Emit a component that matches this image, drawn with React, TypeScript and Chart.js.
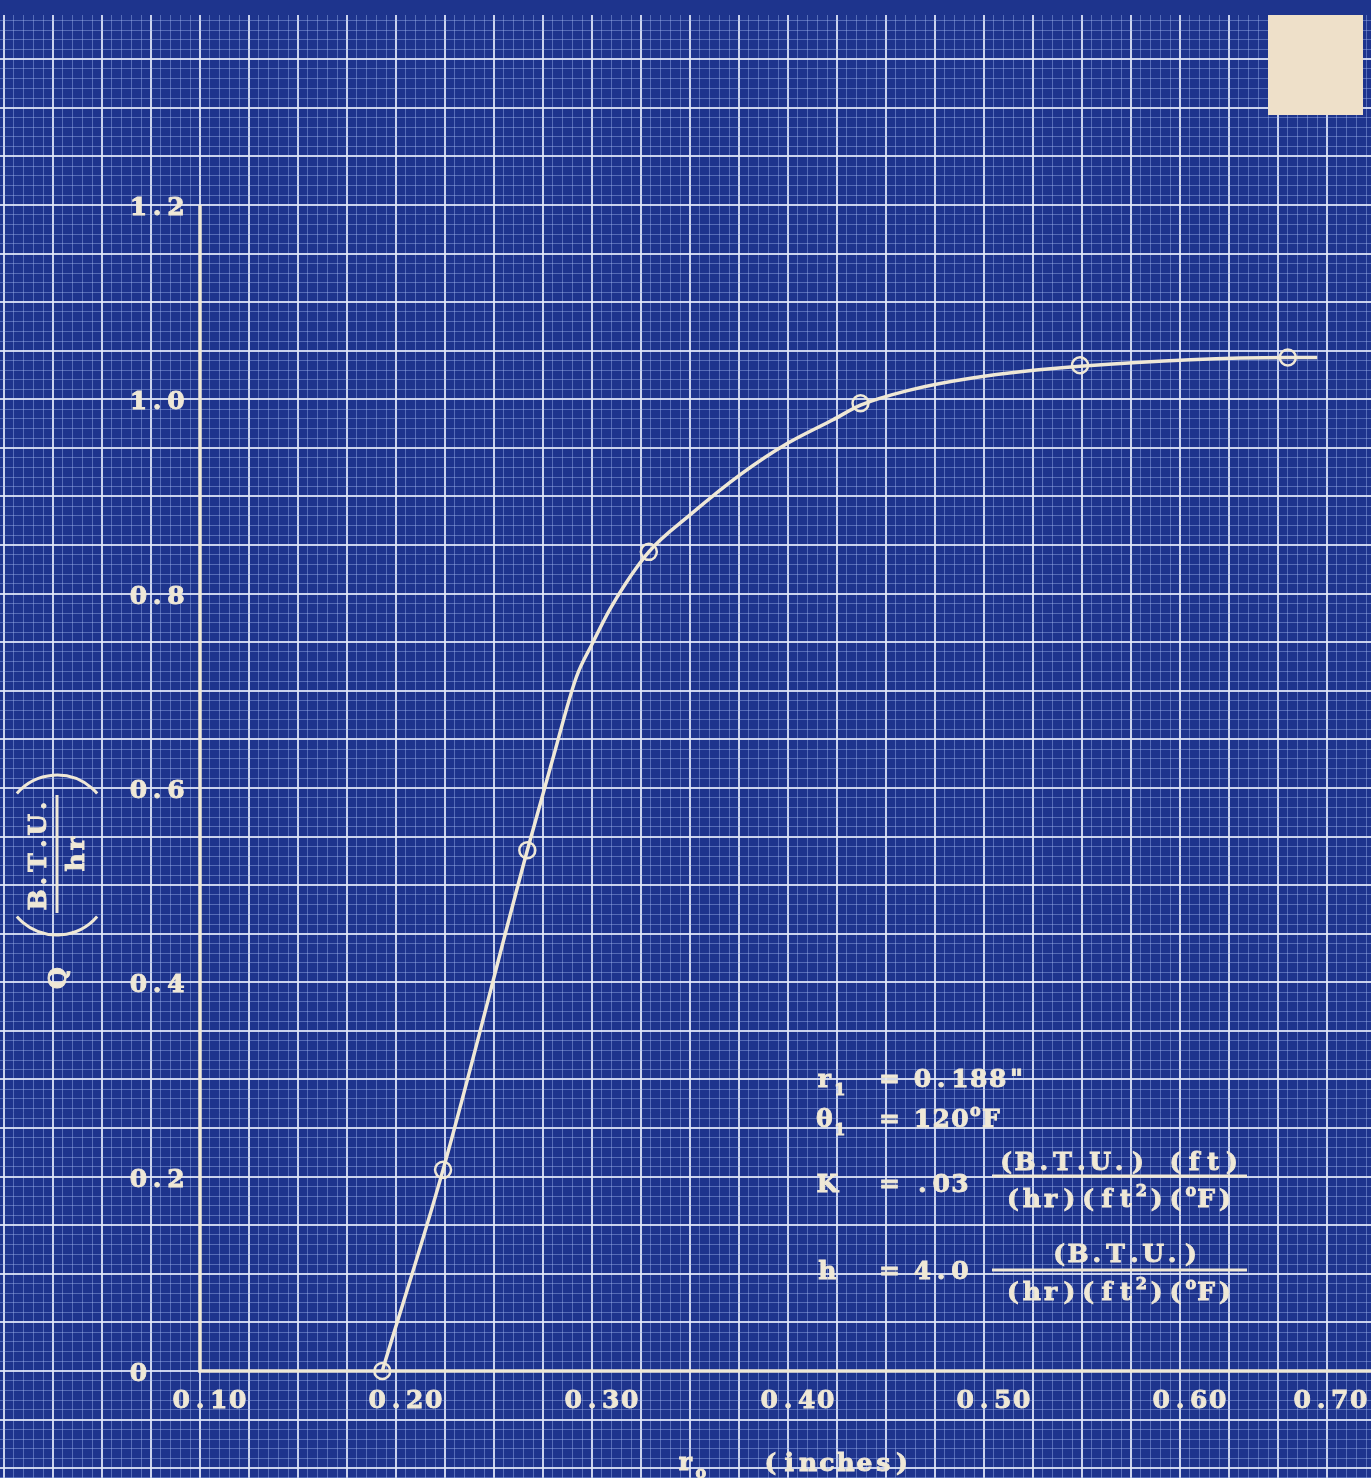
import React, { useEffect, useRef } from "react";
import { Chart, registerables } from "chart.js";
Chart.register(...registerables);

// ---- data ----
const markerX = [0.193, 0.224, 0.267, 0.329, 0.437, 0.549, 0.655];
const markerY = [0.0, 0.207, 0.536, 0.843, 0.996, 1.035, 1.043];
const curveX = [0.193, 0.224, 0.267, 0.28, 0.292, 0.3, 0.31, 0.329, 0.35, 0.376, 0.4, 0.423, 0.437, 0.461, 0.494, 0.549, 0.655, 0.67];
const curveY = [0.0, 0.207, 0.536, 0.63, 0.714, 0.748, 0.787, 0.843, 0.881, 0.923, 0.955, 0.979, 0.994, 1.009, 1.022, 1.034, 1.043, 1.043];
const xTickValues = [0.1, 0.2, 0.3, 0.4, 0.5, 0.6, 0.7];
const xTickLabels = ["0.10", "0.20", "0.30", "0.40", "0.50", "0.60", "0.70"];
const yTickValues = [0, 0.2, 0.4, 0.6, 0.8, 1.0, 1.2];
const yTickLabels = ["0", "0.2", "0.4", "0.6", "0.8", "1.0", "1.2"];

// ---- view ----
const X_MIN = -0.00204;
const X_MAX = 0.70204;
const Y_MIN = -0.11012;
const Y_MAX = 1.39552;
const X_STEP = 0.005;
const Y_STEP = 0.01;
const PAGE_W = 1371;

const BG = "#1e348d";
const INK = "#efe8d6";
const MAJOR = "rgba(226,232,250,0.88)";
const MINOR = "rgba(165,185,240,0.42)";
const FONT = '"DejaVu Serif", "Liberation Serif", serif';
const PITCH = 18.8;
const SMALL_PITCH = 12;

type Seg = { t: string; k?: "sub" | "sup" };

function segWidth(s: Seg) {
  return Array.from(s.t).length * (s.k ? SMALL_PITCH : PITCH);
}

// typewriter-style text: every character sits centred in a fixed-width cell
function drawType(ctx: CanvasRenderingContext2D, x: number, y: number, segs: Seg[], align: "left" | "center" = "left") {
  ctx.save();
  ctx.textAlign = "center";
  ctx.textBaseline = "alphabetic";
  ctx.lineWidth = 0.9;
  ctx.strokeStyle = INK;
  ctx.fillStyle = INK;
  const total = segs.reduce((acc, s) => acc + segWidth(s), 0);
  let cx = align === "center" ? x - total / 2 : x;
  segs.forEach((s) => {
    const p = s.k ? SMALL_PITCH : PITCH;
    ctx.font = s.k ? `bold 16px ${FONT}` : `bold 25px ${FONT}`;
    const dy = s.k === "sub" ? 8 : s.k === "sup" ? -11 : 0;
    Array.from(s.t).forEach((ch) => {
      if (ch !== " ") {
        ctx.fillText(ch, cx + p / 2, y + dy);
        ctx.strokeText(ch, cx + p / 2, y + dy);
      }
      cx += p;
    });
  });
  ctx.restore();
  return total;
}

function gridIndex(v: number, step: number) {
  const n = Math.round(v / step);
  return ((n % 5) + 5) % 5;
}

const paperPlugin = {
  id: "paper",
  beforeDraw(chart: any) {
    const ctx = chart.ctx;
    ctx.save();
    ctx.fillStyle = BG;
    ctx.fillRect(0, 0, chart.width, chart.height);
    ctx.restore();
  },
  beforeDatasetsDraw(chart: any) {
    const ctx = chart.ctx;
    const xs = chart.scales.x;
    const ys = chart.scales.y;
    const x0 = xs.getPixelForValue(xTickValues[0]);
    const y0 = ys.getPixelForValue(yTickValues[0]);
    const yTop = ys.getPixelForValue(yTickValues[yTickValues.length - 1]);
    ctx.save();
    ctx.strokeStyle = INK;
    ctx.lineWidth = 3.5;
    ctx.lineCap = "butt";
    ctx.beginPath();
    ctx.moveTo(x0, yTop);
    ctx.lineTo(x0, y0);
    ctx.lineTo(chart.width, y0);
    ctx.stroke();
    ctx.restore();
  },
  afterDraw(chart: any) {
    const ctx = chart.ctx;
    const xs = chart.scales.x;
    const ys = chart.scales.y;
    ctx.save();
    // paper tab in the top-right corner
    ctx.fillStyle = "#eee0c9";
    ctx.fillRect(1268, 15, 95, 100);

    ctx.fillStyle = INK;
    ctx.strokeStyle = INK;

    // x tick labels (decimal point sits on the grid line)
    xTickValues.forEach((v, i) => {
      const label = xTickLabels[i];
      const w = label.length * PITCH;
      let left = xs.getPixelForValue(v) - 1.5 * PITCH;
      if (left + w > PAGE_W - 3) left = PAGE_W - 3 - w;
      drawType(ctx, left, 1408, [{ t: label }]);
    });
    // y tick labels
    yTickValues.forEach((v, i) => {
      drawType(ctx, 129, ys.getPixelForValue(v) + 10, [{ t: yTickLabels[i] }]);
    });

    // x title
    drawType(ctx, 676, 1470, [{ t: "r" }, { t: "o", k: "sub" }]);
    drawType(ctx, 761, 1471, [{ t: "(inches)" }]);

    // y title (rotated)
    ctx.save();
    ctx.translate(57, 855);
    ctx.rotate(-Math.PI / 2);
    drawType(ctx, -123, 9, [{ t: "Q" }], "center");
    drawType(ctx, 2, -11, [{ t: "B.T.U." }], "center");
    drawType(ctx, 2, 27, [{ t: "hr" }], "center");
    ctx.lineWidth = 3;
    ctx.beginPath();
    ctx.moveTo(-58, 0);
    ctx.lineTo(60, 0);
    ctx.stroke();
    const R = 53;
    const a = 0.86;
    ctx.beginPath();
    ctx.arc(-80 + R, 0, R, Math.PI - a, Math.PI + a);
    ctx.stroke();
    ctx.beginPath();
    ctx.arc(80 - R, 0, R, -a, a);
    ctx.stroke();
    ctx.restore();

    // annotation block
    drawType(ctx, 815, 1087, [{ t: "r" }, { t: "1", k: "sub" }]);
    drawType(ctx, 880, 1087, [{ t: "=" }]);
    drawType(ctx, 913, 1087, [{ t: '0.188"' }]);

    drawType(ctx, 815, 1127, [{ t: "θ" }, { t: "1", k: "sub" }]);
    drawType(ctx, 880, 1127, [{ t: "=" }]);
    drawType(ctx, 913, 1127, [{ t: "120" }, { t: "o", k: "sup" }, { t: "F" }]);

    drawType(ctx, 818, 1192, [{ t: "K" }]);
    drawType(ctx, 880, 1192, [{ t: "=" }]);
    drawType(ctx, 913, 1192, [{ t: ".03" }]);
    drawType(ctx, 1119, 1170, [{ t: "(B.T.U.) (ft)" }], "center");
    ctx.lineWidth = 3;
    ctx.beginPath();
    ctx.moveTo(992, 1176);
    ctx.lineTo(1247, 1176);
    ctx.stroke();
    drawType(ctx, 1119, 1207, [{ t: "(hr)(ft" }, { t: "2", k: "sup" }, { t: ")(" }, { t: "o", k: "sup" }, { t: "F)" }], "center");

    drawType(ctx, 818, 1279, [{ t: "h" }]);
    drawType(ctx, 880, 1279, [{ t: "=" }]);
    drawType(ctx, 913, 1279, [{ t: "4.0" }]);
    drawType(ctx, 1125, 1262, [{ t: "(B.T.U.)" }], "center");
    ctx.lineWidth = 3;
    ctx.beginPath();
    ctx.moveTo(992, 1270);
    ctx.lineTo(1247, 1270);
    ctx.stroke();
    drawType(ctx, 1119, 1300, [{ t: "(hr)(ft" }, { t: "2", k: "sup" }, { t: ")(" }, { t: "o", k: "sup" }, { t: "F)" }], "center");

    ctx.restore();
  },
};

export default function App() {
  const ref = useRef<HTMLCanvasElement | null>(null);

  useEffect(() => {
    if (!ref.current) return;
    const curve = curveX.map((x, i) => ({ x, y: curveY[i] }));
    const markers = markerX.map((x, i) => ({ x, y: markerY[i] }));

    const chart = new Chart(ref.current, {
      type: "scatter",
      data: {
        datasets: [
          {
            label: "curve",
            data: curve,
            showLine: true,
            borderColor: INK,
            borderWidth: 3.5,
            pointRadius: 0,
            cubicInterpolationMode: "monotone",
            fill: false,
          } as any,
          {
            label: "points",
            data: markers,
            showLine: false,
            pointRadius: 8,
            pointBorderWidth: 2.5,
            pointBorderColor: INK,
            pointBackgroundColor: "rgba(0,0,0,0)",
          } as any,
        ],
      },
      options: {
        animation: false,
        responsive: false,
        devicePixelRatio: 1,
        layout: { autoPadding: false, padding: { top: 15, left: 0, right: 0, bottom: 0 } },
        plugins: { legend: { display: false }, tooltip: { enabled: false }, title: { display: false } },
        events: [],
        scales: {
          x: {
            type: "linear",
            min: X_MIN,
            max: X_MAX,
            border: { display: false },
            ticks: { display: false },
            afterBuildTicks: (axis: any) => {
              const t: any[] = [];
              for (let i = 0; i <= 140; i++) t.push({ value: +(i * X_STEP).toFixed(4) });
              axis.ticks = t;
            },
            grid: {
              drawTicks: false,
              color: (c: any) => (gridIndex(c.tick.value, X_STEP) === 0 ? MAJOR : MINOR),
              lineWidth: (c: any) => (gridIndex(c.tick.value, X_STEP) === 0 ? 2 : 1),
            },
          },
          y: {
            type: "linear",
            min: Y_MIN,
            max: Y_MAX,
            border: { display: false },
            ticks: { display: false },
            afterBuildTicks: (axis: any) => {
              const t: any[] = [];
              for (let i = -11; i <= 139; i++) t.push({ value: +(i * Y_STEP).toFixed(4) });
              axis.ticks = t;
            },
            grid: {
              drawTicks: false,
              color: (c: any) => (gridIndex(c.tick.value, Y_STEP) === 0 ? MAJOR : MINOR),
              lineWidth: (c: any) => (gridIndex(c.tick.value, Y_STEP) === 0 ? 2 : 1),
            },
          },
        },
      } as any,
      plugins: [paperPlugin],
    });
    return () => chart.destroy();
  }, []);

  return (
    <div style={{ position: "fixed", left: 0, top: 0, width: 1371, height: 1478, overflow: "hidden", background: BG }}>
      <canvas ref={ref} width={1380} height={1478} style={{ display: "block", width: 1380, height: 1478 }} />
    </div>
  );
}
